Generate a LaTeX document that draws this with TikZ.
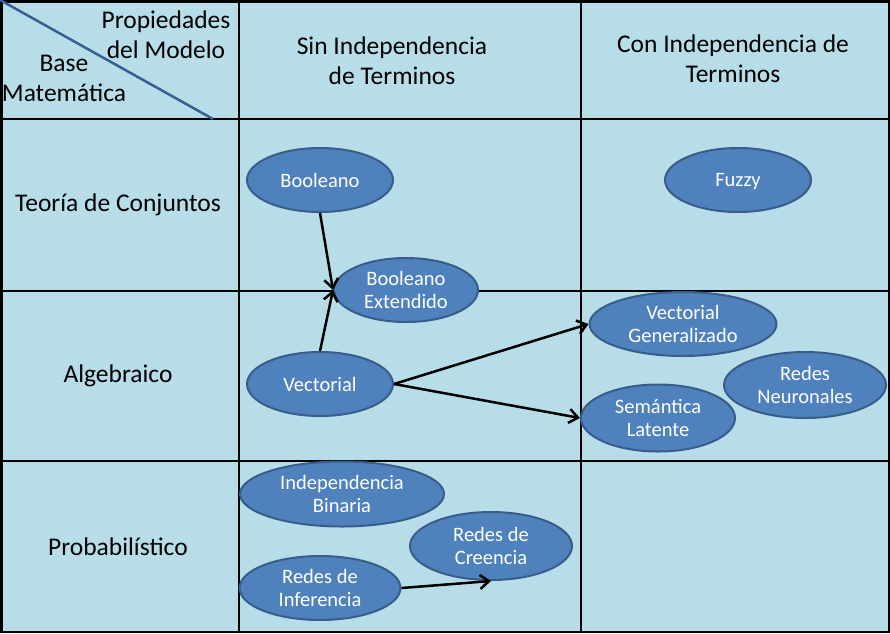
\documentclass[tikz,border=0pt]{standalone}
\usepackage{fontspec}
\setmainfont{Carlito}
\usetikzlibrary{shapes.geometric,arrows.meta}

\definecolor{celda}{HTML}{B7DDE8}
\definecolor{elipse}{HTML}{4F81BD}
\definecolor{borde}{HTML}{385D8A}
\definecolor{diagonal}{HTML}{376092}

\begin{document}
\begin{tikzpicture}[
    x=1pt, y=-1pt,
    modelo/.style={ellipse, draw=borde, line width=2pt, fill=elipse, text=white, align=center,
                   inner sep=0pt, minimum width=146pt, minimum height=64pt, font=\fontsize{20.5}{23}\selectfont},
    cab/.style={align=center, font=\fontsize{25.5}{30}\selectfont},
    rejilla/.style={line width=2.5pt},
    arr/.style={-{Straight Barb[length=9pt,width=14pt,line width=2.5pt]}, line width=2.5pt}
]
\useasboundingbox (0,0) rectangle (890,633);

% tabla
\fill[celda] (0,0) rectangle (890,633);
\draw[rejilla] (239,0) -- (239,633);
\draw[rejilla] (581,0) -- (581,633);
\draw[rejilla] (0,119) -- (890,119);
\draw[rejilla] (0,291) -- (890,291);
\draw[rejilla] (0,461) -- (890,461);
\draw[rejilla] (1.25,1.25) rectangle (888.75,631.75);
\draw[diagonal, line width=2.5pt] (0,0) -- (213,119);

% cabeceras
\node[cab] (prop) at (166,35) {Propiedades\\del Modelo};
\node[cab] (base) at (64,78) {Base\\Matemática};
\node[cab] (sinind) at (392,61) {Sin Independencia\\de Terminos};
\node[cab] (conind) at (733,59) {Con Independencia de\\Terminos};
\node[cab] (conj) at (118,205) {Teoría de Conjuntos};
\node[cab] (alg) at (118,376) {Algebraico};
\node[cab] (prob) at (118,547) {Probabilístico};

% modelos
\node[modelo] (bool) at (320,180) {Booleano};
\node[modelo, text depth=0pt] (fuzzy) at (738,180) {Fuzzy};
\node[modelo, minimum width=144pt] (boolext) at (406,290) {Booleano\\Extendido};
\node[modelo] (vect) at (320,384) {Vectorial};
\node[modelo, minimum width=187pt] (vecgen) at (683,324) {Vectorial\\Generalizado};
\node[modelo, minimum width=162pt, minimum height=66pt] (redneu) at (805,385) {Redes\\Neuronales};
\node[modelo, minimum width=154pt, minimum height=67pt] (semlat) at (658,418) {Semántica\\Latente};
\node[modelo, minimum width=204pt, minimum height=65pt] (indbin) at (342,494) {Independencia\\Binaria};
\node[modelo, minimum width=162pt, minimum height=68pt] (redcre) at (491,546) {Redes de\\Creencia};
\node[modelo, minimum width=161pt] (redinf) at (320,588) {Redes de\\Inferencia};

% relaciones
\draw[arr] (bool.south) -- (boolext.west);
\draw[arr] (vect.north) -- (boolext.west);
\draw[arr] (vect.east) -- (vecgen.west);
\draw[arr] (vect.east) -- (semlat.west);
\draw[arr] (redinf.east) -- (redcre.south);
\end{tikzpicture}
\end{document}
